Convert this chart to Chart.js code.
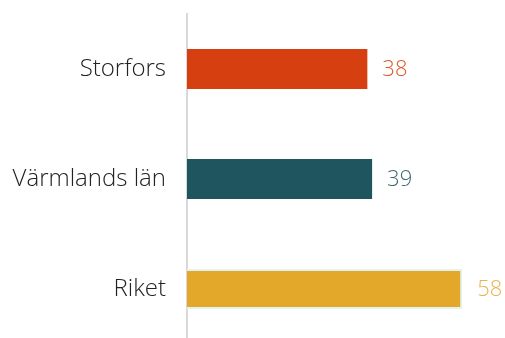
<!DOCTYPE html>
<html>
<head>
<meta charset="utf-8">
<script src="https://cdn.jsdelivr.net/npm/chart.js@4"></script>
<style>
  html, body { margin: 0; padding: 0; background: #fff; overflow: hidden; }
  canvas { display: block; }
</style>
</head>
<body>
<canvas id="chart" width="505" height="344"></canvas>
<script>
const categories = ['Storfors', 'Värmlands län', 'Riket']
const values = [38, 39, 58]
const barColors = ['#d63f0f', '#1f555e', '#e3a82a']
const valueColors = ['#e0582a', '#3d6870', '#e8b450']

const FONT = "'Open Sans', sans-serif"

// draws the number just right of each bar
const valueLabels = {
  id: 'valueLabels',
  afterDatasetsDraw(chart) {
    const ctx = chart.ctx
    const meta = chart.getDatasetMeta(0)
    ctx.save()
    ctx.font = '300 22px ' + FONT
    ctx.textBaseline = 'middle'
    ctx.textAlign = 'left'
    meta.data.forEach((bar, i) => {
      ctx.fillStyle = valueColors[i]
      ctx.fillText(String(values[i]), bar.x + 15, bar.y + 1)
    })
    ctx.restore()
  },
}

// the plot runs a little past the bottom edge of the window, as in the source
new Chart(document.getElementById('chart'), {
  type: 'bar',
  data: {
    labels: categories,
    datasets: [
      {
        data: values,
        backgroundColor: barColors,
        borderColor: ['#d63f0f', '#1f555e', '#e4f2ec'],
        borderWidth: [0, 0, 2],
        borderSkipped: 'start',
        barPercentage: 0.73,
        categoryPercentage: 0.5,
      },
    ],
  },
  options: {
    indexAxis: 'y',
    responsive: false,
    animation: false,
    layout: { padding: { top: 14, bottom: 0, left: 0, right: 0 } },
    plugins: {
      legend: { display: false },
      tooltip: { enabled: false },
    },
    scales: {
      x: {
        display: false,
        min: 0,
        max: 67,
      },
      y: {
        grid: { display: false, drawTicks: false },
        border: { display: true, color: '#d9d9d9', width: 2 },
        ticks: {
          color: '#222222',
          font: { family: FONT, size: 24, weight: '300' },
          padding: 21,
        },
        afterFit(scale) {
          scale.width = 187
          scale.paddingTop = 0
          scale.paddingBottom = 0
        },
      },
    },
  },
  plugins: [valueLabels],
})
</script>
</body>
</html>
